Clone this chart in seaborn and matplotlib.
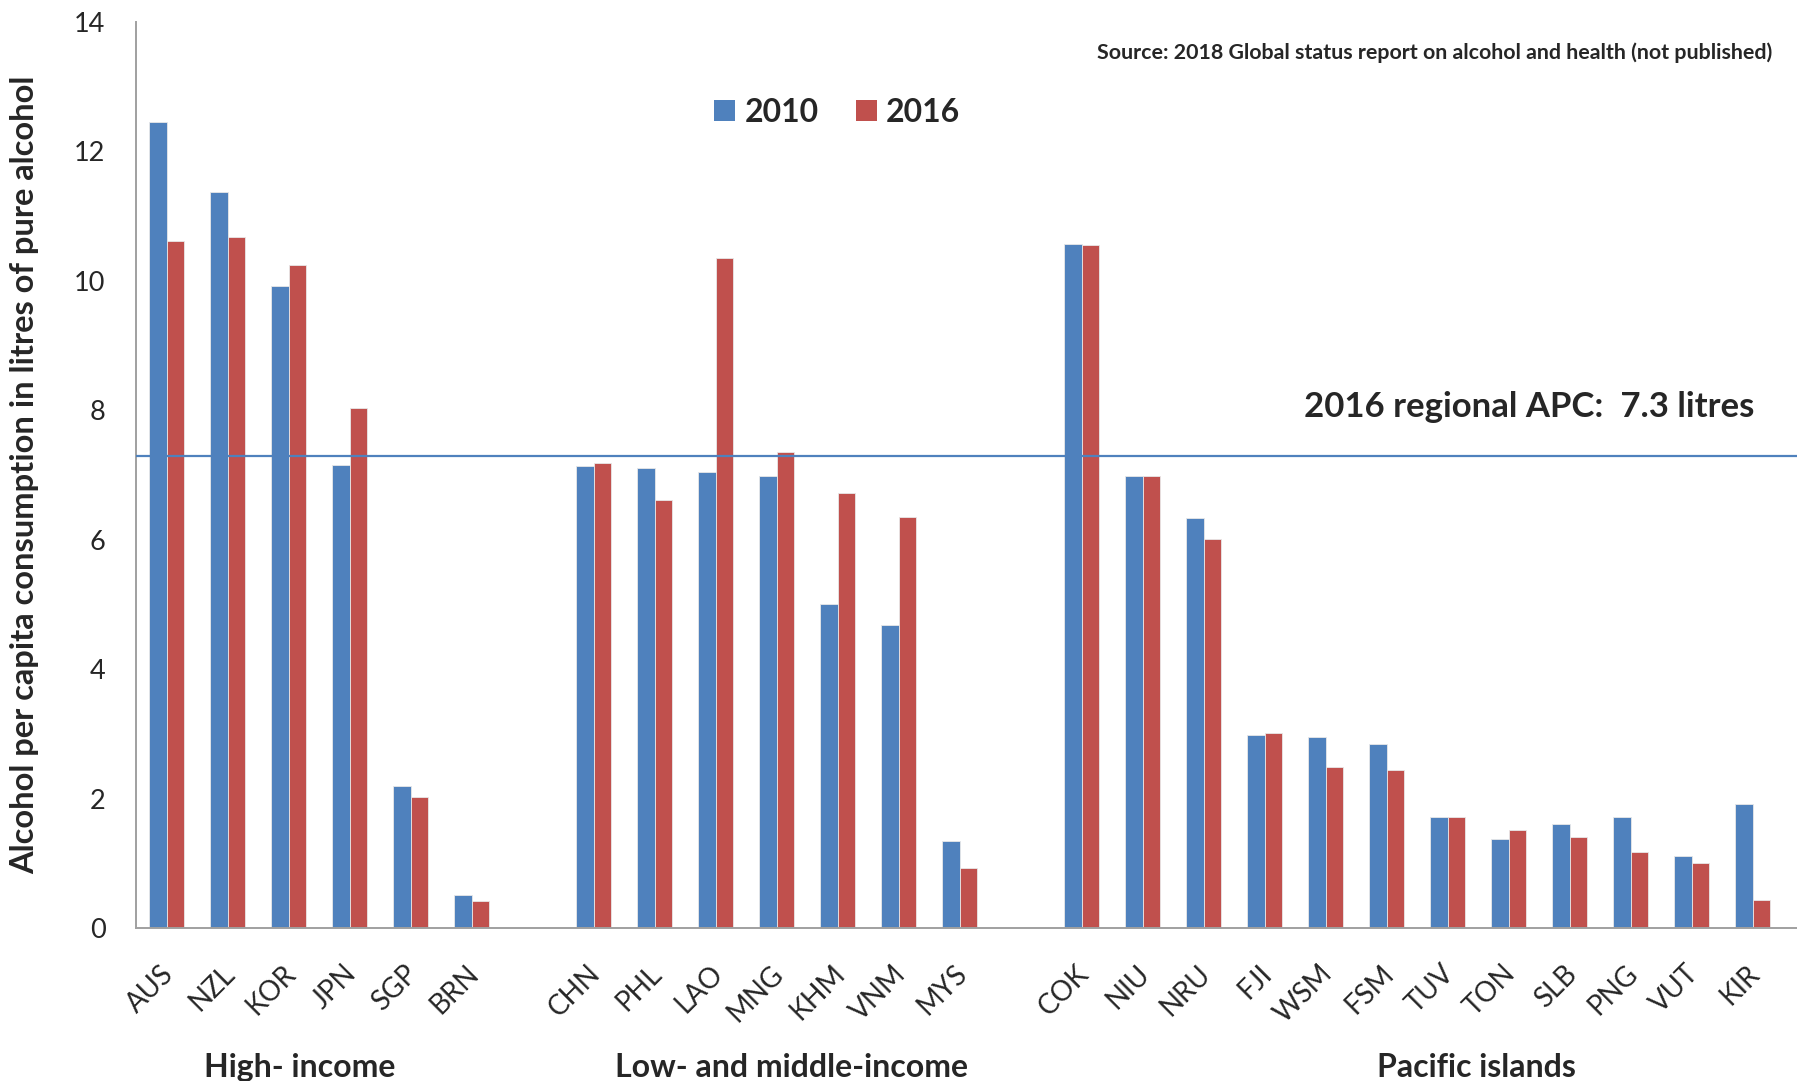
import matplotlib
matplotlib.use("Agg")
import matplotlib.pyplot as plt
import matplotlib.transforms as mtransforms
import numpy as np
import pandas as pd
import seaborn as sns

# Country codes by income group
high_income = ["AUS", "NZL", "KOR", "JPN", "SGP", "BRN"]
low_middle_income = ["CHN", "PHL", "LAO", "MNG", "KHM", "VNM", "MYS"]
pacific_islands = ["COK", "NIU", "NRU", "FJI", "WSM", "FSM", "TUV", "TON",
                   "SLB", "PNG", "VUT", "KIR"]

# Alcohol per capita consumption (litres of pure alcohol)
apc_2010 = [12.46, 11.37, 9.92, 7.16, 2.19, 0.51,
            7.14, 7.11, 7.04, 6.98, 5.00, 4.68, 1.34,
            10.57, 6.98, 6.33, 2.99, 2.95, 2.85, 1.71, 1.38, 1.61, 1.71, 1.11, 1.91]
apc_2016 = [10.61, 10.68, 10.24, 8.03, 2.03, 0.42,
            7.19, 6.61, 10.36, 7.35, 6.72, 6.35, 0.92,
            10.55, 6.98, 6.01, 3.01, 2.49, 2.44, 1.71, 1.52, 1.41, 1.17, 1.01, 0.44]
years = ["2010", "2016"]
regional_apc_2016 = 7.3

group_labels = ["High- income", "Low- and middle-income", "Pacific islands"]

countries = high_income + low_middle_income + pacific_islands
df = pd.DataFrame({
    "country": countries * 2,
    "year": [years[0]] * len(countries) + [years[1]] * len(countries),
    "apc": apc_2010 + apc_2016,
})

# blank slots separate the three groups on the category axis
order = high_income + [" "] + low_middle_income + ["  "] + pacific_islands

sns.set_style("white")
plt.rcParams["font.family"] = ["Lato", "DejaVu Sans"]

W, H = 1797, 1081
fig = plt.figure(figsize=(W / 100, H / 100), dpi=100)
ax = fig.add_axes([136 / W, (H - 928) / H, (W - 136) / W, (928 - 22) / H])

palette = {"2010": "#4F81BD", "2016": "#C0504D"}
sns.barplot(data=df, x="country", y="apc", hue="year", order=order,
            hue_order=years, palette=palette, width=0.56, saturation=1,
            errorbar=None, ax=ax, linewidth=0.6, edgecolor="#E8E8E8")

# regional average line
ax.axhline(regional_apc_2016, color="#4F81BD", lw=1.6, zorder=3)

ax.set_ylim(0, 14)
ax.set_xlim(-0.5, (W - 136) / 61 - 0.5)
ax.set_yticks(np.arange(0, 15, 2))
ax.set_xlabel("")
ax.set_ylabel("Alcohol per capita consumption in litres of pure alcohol",
              fontsize=23.5, fontweight="bold", va="center")
ax.yaxis.set_label_coords(-111 / (W - 136), 0.5)

for s in ["top", "right"]:
    ax.spines[s].set_visible(False)
for s in ["left", "bottom"]:
    ax.spines[s].set_color("#A0A0A0")
    ax.spines[s].set_linewidth(1.4)

ax.tick_params(axis="y", length=0, pad=22, labelsize=19.5)
ax.tick_params(axis="x", length=0, pad=30, labelsize=20)
labels = ax.get_xticklabels()
ax.set_xticks(ax.get_xticks())
ax.set_xticklabels([t.get_text() for t in labels], rotation=45, ha="right",
                   va="center", rotation_mode="anchor")
shift = mtransforms.ScaledTranslation(0.03, 0, fig.dpi_scale_trans)
for lab in ax.get_xticklabels():
    lab.set_transform(lab.get_transform() + shift)

# legend
handles, labs = ax.get_legend_handles_labels()
ax.legend(handles, labs, ncol=2, frameon=False, loc="center left",
          bbox_to_anchor=(714 / W, 1 - 112 / H), bbox_transform=fig.transFigure,
          prop={"weight": "bold", "size": 23}, handlelength=0.66,
          handleheight=0.63, handletextpad=0.3, columnspacing=1.15,
          borderpad=0, borderaxespad=0)
for h in ax.get_legend().legend_handles:
    h.set_edgecolor("none")

# group captions under the country codes
blend = mtransforms.blended_transform_factory(ax.transData, fig.transFigure)
for xpos, txt in zip([2.19, 10.25, 21.48], group_labels):
    ax.text(xpos, (H - 1077) / H, txt, transform=blend, ha="center",
            va="baseline", fontsize=23, fontweight="bold")

fig.text(1304 / W, 1 - 407 / H, "2016 regional APC:  7.3 litres",
         ha="left", va="center", fontsize=25, fontweight="bold")
fig.text(1097 / W, 1 - 53 / H,
         "Source: 2018 Global status report on alcohol and health (not published)",
         ha="left", va="center", fontsize=15.4, fontweight="bold")

fig.savefig("out.png", dpi=100)
